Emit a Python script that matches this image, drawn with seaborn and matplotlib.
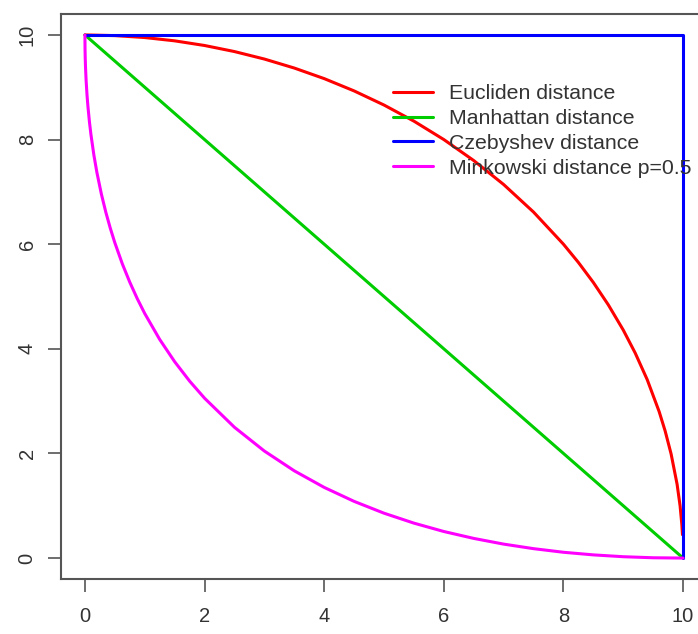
import numpy as np
import pandas as pd
import matplotlib
matplotlib.use("Agg")
import matplotlib.pyplot as plt
import seaborn as sns
from matplotlib.lines import Line2D

# ---- data ----
series_names = ["Eucliden distance", "Manhattan distance",
                "Czebyshev distance", "Minkowski distance p=0.5"]

eucl_x = [0, 0.5, 1, 1.5, 2, 2.5, 3, 3.5, 4, 4.5, 5, 5.5, 6, 6.5, 7, 7.5,
          8, 8.25, 8.5, 8.75, 9, 9.2, 9.4, 9.6, 9.7, 9.8, 9.9, 9.95, 9.98, 9.99]
eucl_y = [10, 9.987, 9.950, 9.887, 9.798, 9.682, 9.539, 9.367, 9.165, 8.930,
          8.660, 8.352, 8.000, 7.599, 7.141, 6.614, 6.000, 5.651, 5.268, 4.841,
          4.359, 3.919, 3.412, 2.800, 2.431, 1.990, 1.411, 0.999, 0.632, 0.447]

manh_x = [0, 10]
manh_y = [10, 0]

cheb_x = [0, 10, 10]
cheb_y = [10, 10, 0]

mink_x = [0, 0.002, 0.005, 0.01, 0.02, 0.035, 0.05, 0.075, 0.1, 0.15, 0.2,
          0.275, 0.35, 0.425, 0.5, 0.625, 0.75, 0.875, 1, 1.25, 1.5, 1.75, 2,
          2.5, 3, 3.5, 4, 4.5, 5, 5.5, 6, 6.5, 7, 7.5, 8, 8.5, 9, 9.5, 10]
mink_y = [10, 9.719, 9.558, 9.378, 9.126, 8.852, 8.636, 8.343, 8.100, 7.701,
          7.372, 6.958, 6.608, 6.302, 6.028, 5.625, 5.273, 4.959, 4.675, 4.179,
          3.754, 3.383, 3.056, 2.500, 2.046, 1.668, 1.351, 1.084, 0.858, 0.668,
          0.508, 0.376, 0.267, 0.180, 0.111, 0.061, 0.026, 0.006, 0]

x_ticks = [0, 2, 4, 6, 8, 10]
y_ticks = [0, 2, 4, 6, 8, 10]

colors = ["#FF0000", "#00CD00", "#0000FF", "#FF00FF"]

frames = []
for name, xs, ys in zip(series_names,
                        [eucl_x, manh_x, cheb_x, mink_x],
                        [eucl_y, manh_y, cheb_y, mink_y]):
    frames.append(pd.DataFrame({"x": xs, "y": ys, "series": name}))
df = pd.concat(frames, ignore_index=True)

sns.set_style("white")
plt.rcParams["font.family"] = ["Liberation Sans", "DejaVu Sans"]

fig = plt.figure(figsize=(6.98, 6.34), dpi=100)
ax = fig.add_axes([61 / 698, (634 - 579) / 634, (707 - 61) / 698, (579 - 14) / 634])

sns.lineplot(data=df, x="x", y="y", hue="series", hue_order=series_names,
             palette=colors, sort=False, estimator=None, units="series",
             linewidth=2.2, ax=ax, legend=False)

ax.set_xlim(-0.4, 10.4)
ax.set_ylim(-0.4, 10.4)
ax.set_xticks(x_ticks)
ax.set_yticks(y_ticks)
ax.set_xlabel("")
ax.set_ylabel("")

for sp in ax.spines.values():
    sp.set_color("#555555")
    sp.set_linewidth(1.5)
    sp.set_visible(True)

ax.tick_params(axis="both", direction="out", length=9.5, width=1.2,
               color="#555555", labelcolor="#333333", labelsize=14.5,
               bottom=True, left=True)
ax.tick_params(axis="x", pad=11)
ax.tick_params(axis="y", pad=8)
for lab in ax.get_yticklabels():
    lab.set_rotation(90)
    lab.set_va("center")

handles = [Line2D([], [], color=c, linewidth=2.2) for c in colors]
ax.legend(handles, series_names, loc="upper left",
          bbox_to_anchor=(393 / 698, 1 - 84 / 634),
          bbox_transform=fig.transFigure, frameon=False,
          fontsize=15.3, handlelength=1.9, handletextpad=0.75,
          labelspacing=0.28, borderpad=0, borderaxespad=0)
for t in ax.get_legend().get_texts():
    t.set_color("#333333")

fig.savefig("out.png", dpi=100)
